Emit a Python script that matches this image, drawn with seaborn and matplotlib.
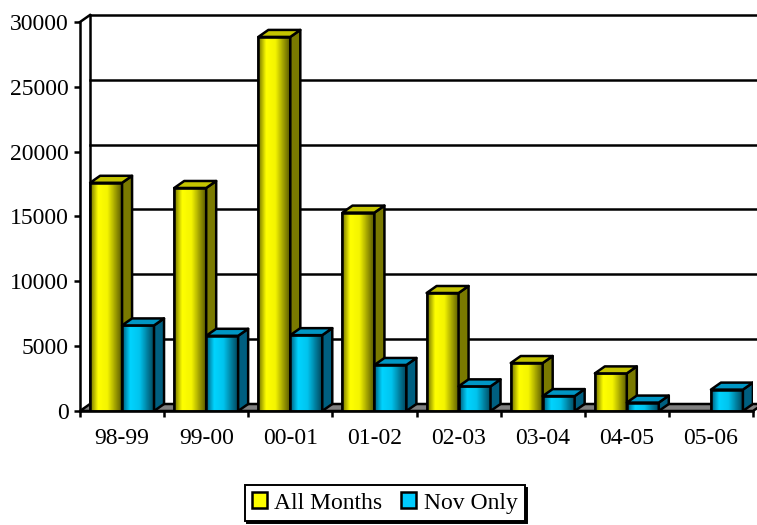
import numpy as np
import pandas as pd
import matplotlib
matplotlib.use("Agg")
import matplotlib.pyplot as plt
import seaborn as sns
from matplotlib.colors import LinearSegmentedColormap
from matplotlib.patches import Polygon, Patch, Rectangle

# --- data ---
seasons = ["98-99", "99-00", "00-01", "01-02", "02-03", "03-04", "04-05", "05-06"]
all_months = [17600, 17200, 28850, 15300, 9100, 3700, 2900, 0]
nov_only = [6600, 5800, 5850, 3550, 1900, 1150, 650, 1650]
series_names = ["All Months", "Nov Only"]
y_ticks = [0, 5000, 10000, 15000, 20000, 25000, 30000]

df = pd.DataFrame({
    "Season": seasons * 2,
    "Count": all_months + nov_only,
    "Series": [series_names[0]] * len(seasons) + [series_names[1]] * len(seasons),
})

# colours: front (flat), side, top, gradient
front = {"All Months": "#ffff00", "Nov Only": "#00ccff"}
side = {"All Months": "#7a7a00", "Nov Only": "#005f80"}
top = {"All Months": "#c4c400", "Nov Only": "#0096c4"}
grads = {
    "All Months": LinearSegmentedColormap.from_list(
        "yel", [(0, "#6f6f00"), (0.25, "#ffff00"), (0.55, "#f4f400"), (1, "#5c5c00")]),
    "Nov Only": LinearSegmentedColormap.from_list(
        "cya", [(0, "#005a78"), (0.25, "#00d4ff"), (0.55, "#00c4ee"), (1, "#00485f")]),
}

plt.rcParams["font.family"] = ["Liberation Serif", "DejaVu Serif"]

fig = plt.figure(figsize=(7.57, 5.25), dpi=100)
ax = fig.add_axes([80 / 757, 114 / 525, 673 / 757, 389 / 525])

LW = 1.8  # outline weight

sns.barplot(data=df, x="Season", y="Count", hue="Series", palette=front,
            width=0.76, edgecolor="black", linewidth=LW, legend=False, ax=ax,
            saturation=1)
ax.set_xlim(-0.5, 7.5)
ax.set_ylim(0, 30000)

# the bars seaborn drew, ordered left to right
bars = sorted([p for p in ax.patches if isinstance(p, Rectangle)], key=lambda p: p.get_x())

# depth of the 3D effect (10 px right, 7 px up) in data units
p0 = ax.transData.transform((0, 0))
dx, dy = ax.transData.inverted().transform(p0 + np.array([10, 7]))

line_kw = dict(color="black", lw=LW, clip_on=False, solid_capstyle="projecting")

# floor
floor = Polygon([(-0.5, 0), (7.5, 0), (7.5 + dx, dy), (-0.5 + dx, dy)],
                closed=True, facecolor="#808080", edgecolor="black", lw=LW,
                clip_on=False, zorder=1)
ax.add_patch(floor)

# back wall gridlines + left wall
for v in y_ticks[1:]:
    ax.plot([-0.5 + dx, 7.5 + dx], [v + dy, v + dy], zorder=0.5, **line_kw)
ax.plot([-0.5 + dx, -0.5 + dx], [dy, 30000 + dy], zorder=0.5, **line_kw)
ax.plot([-0.5, -0.5 + dx], [30000, 30000 + dy], zorder=0.5, **line_kw)

# 3D faces on the bars
for i, bar in enumerate(bars):
    x, w, h = bar.get_x(), bar.get_width(), bar.get_height()
    name = series_names[0] if bar.get_facecolor()[2] < 0.5 else series_names[1]
    z = 3 + i * 0.1
    if h <= 0:
        bar.set_visible(False)
        continue
    bar.set_zorder(z)
    im = ax.imshow(np.linspace(0, 1, 64).reshape(1, -1), cmap=grads[name],
                   extent=[x, x + w, 0, h], aspect="auto", zorder=z + 0.01,
                   interpolation="bilinear")
    im.set_clip_path(bar)
    edge = Polygon([(x, 0), (x + w, 0), (x + w, h), (x, h)], closed=True,
                   fill=False, edgecolor="black", lw=LW, zorder=z + 0.02)
    ax.add_patch(edge)
    sface = Polygon([(x + w, 0), (x + w + dx, dy), (x + w + dx, h + dy), (x + w, h)],
                    closed=True, facecolor=side[name], edgecolor="black",
                    lw=LW, zorder=z + 0.02, joinstyle="round")
    tface = Polygon([(x, h), (x + w, h), (x + w + dx, h + dy), (x + dx, h + dy)],
                    closed=True, facecolor=top[name], edgecolor="black",
                    lw=LW, zorder=z + 0.02, joinstyle="round")
    ax.add_patch(sface)
    ax.add_patch(tface)
ax.set_xlim(-0.5, 7.5)
ax.set_ylim(0, 30000)

# axes styling
for s in ["top", "right"]:
    ax.spines[s].set_visible(False)
for s in ["left", "bottom"]:
    ax.spines[s].set_linewidth(LW)
    ax.spines[s].set_zorder(10)
ax.set_facecolor("none")
ax.set_xlabel("")
ax.set_ylabel("")
ax.set_yticks(y_ticks)
ax.set_yticklabels([str(v) for v in y_ticks])
ax.set_xticks(range(len(seasons)))
ax.set_xticklabels(seasons)
ax.set_xticks(np.arange(-0.5, len(seasons)), minor=True)
ax.tick_params(axis="y", length=4.5, width=LW, pad=3.5, labelsize=17)
ax.tick_params(axis="x", which="major", length=0, pad=12, labelsize=17)
ax.tick_params(axis="x", which="minor", length=4.5, width=LW, direction="out")
ax.grid(False)

handles = [Patch(facecolor=front[n], edgecolor="black", lw=LW) for n in series_names]
leg = fig.legend(handles, series_names, loc="center", bbox_to_anchor=(0.508, 0.042),
                 ncol=2, fancybox=False, edgecolor="black", framealpha=1,
                 fontsize=17, handlelength=0.65, handleheight=0.65,
                 handletextpad=0.3, columnspacing=0.8, borderpad=0.3,
                 shadow={"color": "black", "alpha": 1})
leg.get_frame().set_linewidth(1.4)

fig.savefig("out.png", dpi=100)
